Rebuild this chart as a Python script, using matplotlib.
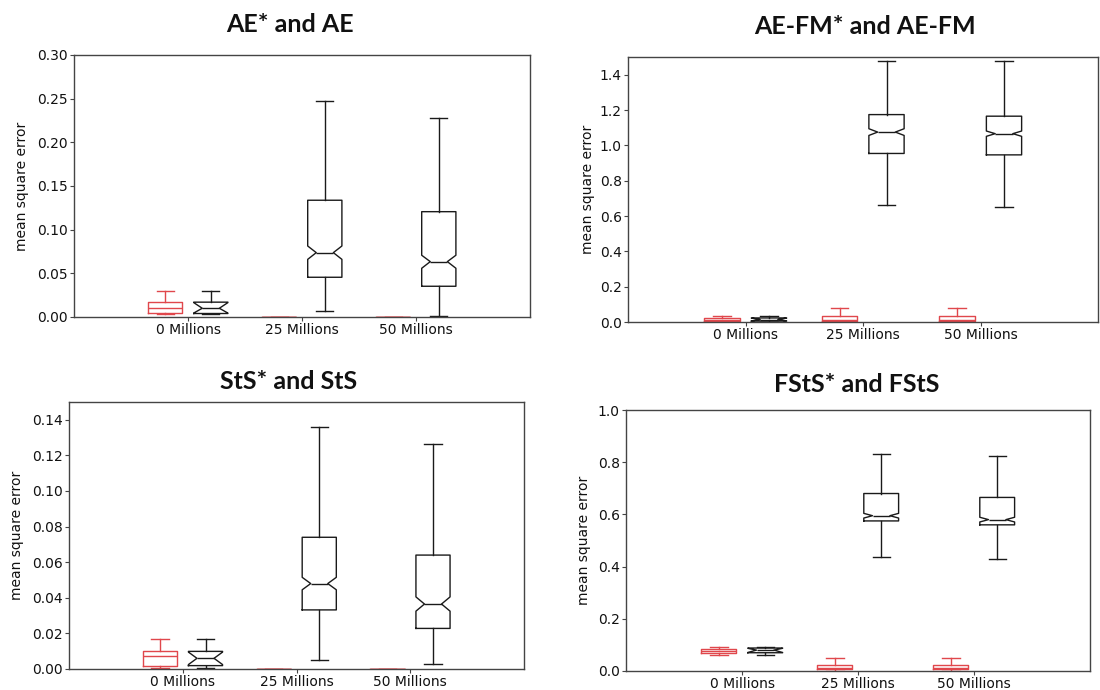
import matplotlib
matplotlib.use("Agg")
import matplotlib.pyplot as plt

# ---------------- data (whislo, q1, med, q3, whishi) ----------------
groups = ["0 Millions", "25 Millions", "50 Millions"]

ae_star = [[0.003, 0.0042, 0.0103, 0.017, 0.030], [0, 0, 0, 0, 0], [0, 0, 0, 0, 0]]
ae = [[0.003, 0.004, 0.010, 0.017, 0.030],
      [0.0072, 0.0455, 0.0737, 0.1337, 0.2478],
      [0.001, 0.0352, 0.0634, 0.1206, 0.2283]]
ae_notch = [[0.0045, 0.0165], [0.066, 0.0813], [0.0558, 0.0707]]

aefm_star = [[0.0, 0.004, 0.011, 0.021, 0.034],
             [0.0, 0.004, 0.010, 0.034, 0.080],
             [0.0, 0.004, 0.010, 0.034, 0.080]]
aefm = [[0.0, 0.005, 0.014, 0.023, 0.034],
        [0.665, 0.954, 1.075, 1.174, 1.478],
        [0.650, 0.946, 1.066, 1.165, 1.476]]
aefm_notch = [[0.006, 0.022], [1.056, 1.094], [1.051, 1.081]]

sts_star = [[0.0006, 0.0019, 0.0071, 0.0099, 0.017], [0, 0, 0, 0, 0], [0, 0, 0, 0, 0]]
sts = [[0.0006, 0.0019, 0.0060, 0.0099, 0.017],
       [0.0048, 0.0332, 0.0480, 0.0740, 0.1357],
       [0.0028, 0.0228, 0.0365, 0.0640, 0.1262]]
sts_notch = [[0.0025, 0.0095], [0.0445, 0.0515], [0.0325, 0.0405]]

fsts_star = [[0.060, 0.068, 0.077, 0.086, 0.093],
             [0.0, 0.006, 0.011, 0.023, 0.049],
             [0.0, 0.006, 0.011, 0.023, 0.049]]
fsts = [[0.062, 0.070, 0.080, 0.088, 0.093],
        [0.435, 0.575, 0.595, 0.680, 0.833],
        [0.430, 0.560, 0.580, 0.665, 0.825]]
fsts_notch = [[0.071, 0.087], [0.586, 0.604], [0.571, 0.589]]

titles = ["AE* and AE", "AE-FM* and AE-FM", "StS* and StS", "FStS* and FStS"]
ylims = [(0, 0.30), (0, 1.5), (0, 0.15), (0, 1.0)]
yticks = [[0.00, 0.05, 0.10, 0.15, 0.20, 0.25, 0.30],
          [0.0, 0.2, 0.4, 0.6, 0.8, 1.0, 1.2, 1.4],
          [0.00, 0.02, 0.04, 0.06, 0.08, 0.10, 0.12, 0.14],
          [0.0, 0.2, 0.4, 0.6, 0.8, 1.0]]
yfmt = ["{:.2f}", "{:.1f}", "{:.2f}", "{:.1f}"]

panels = [(ae_star, ae, ae_notch), (aefm_star, aefm, aefm_notch),
          (sts_star, sts, sts_notch), (fsts_star, fsts, fsts_notch)]

# ---------------- layout (pixels) ----------------
W, H = 1100, 690
boxes_px = [(74, 55, 530, 317), (628, 57, 1098, 322), (69, 402, 524, 669), (626, 410, 1090, 671)]
title_px = [(290, 25), (865, 27), (289, 382), (857, 384)]
ylab_x = [22, 588, 17, 584]

RED = "#e0474c"
BLACK = "#1a1a1a"
SPINE = "#444444"

fig = plt.figure(figsize=(W / 100, H / 100), dpi=100)


def mkstats(summary, notch=None):
    out = []
    for i, s in enumerate(summary):
        d = dict(whislo=s[0], q1=s[1], med=s[2], q3=s[3], whishi=s[4], fliers=[])
        if notch is not None:
            d["cilo"], d["cihi"] = notch[i][0], notch[i][1]
        else:
            d["cilo"], d["cihi"] = s[2], s[2]
        out.append(d)
    return out


for k, (star, base, notch) in enumerate(panels):
    l, t, r, b = boxes_px[k]
    ax = fig.add_axes([l / W, 1 - b / H, (r - l) / W, (b - t) / H])
    pos = [1, 2, 3]
    for stats, offs, col, shown in [(mkstats(star), -0.2, RED, False),
                                    (mkstats(base, notch), 0.2, BLACK, True)]:
        lp = dict(color=col, linewidth=1.0)
        ax.bxp(stats, positions=[p + offs for p in pos], widths=0.3,
               shownotches=shown, showfliers=False, manage_ticks=False,
               boxprops=lp, whiskerprops=lp, capprops=lp, medianprops=lp)
    ax.set_xlim(0, 4)
    ax.set_ylim(*ylims[k])
    ax.set_xticks(pos)
    ax.set_xticklabels(groups, fontsize=10)
    ax.set_yticks(yticks[k])
    ax.set_yticklabels([yfmt[k].format(v) for v in yticks[k]], fontsize=10)
    for sp in ax.spines.values():
        sp.set_color(SPINE)
        sp.set_linewidth(1.0)
    ax.tick_params(colors=SPINE, labelcolor="#111111", length=3, width=0.8, pad=1.5)
    fig.text(title_px[k][0] / W, 1 - title_px[k][1] / H, titles[k], ha="center", va="center",
             fontsize=18, fontweight="bold", family=["Lato", "DejaVu Sans"], color="#111111")
    fig.text(ylab_x[k] / W, 1 - ((t + b) / 2) / H, "mean square error", rotation=90,
             ha="center", va="center", fontsize=10, color="#111111")

fig.savefig("out.png", dpi=100)
